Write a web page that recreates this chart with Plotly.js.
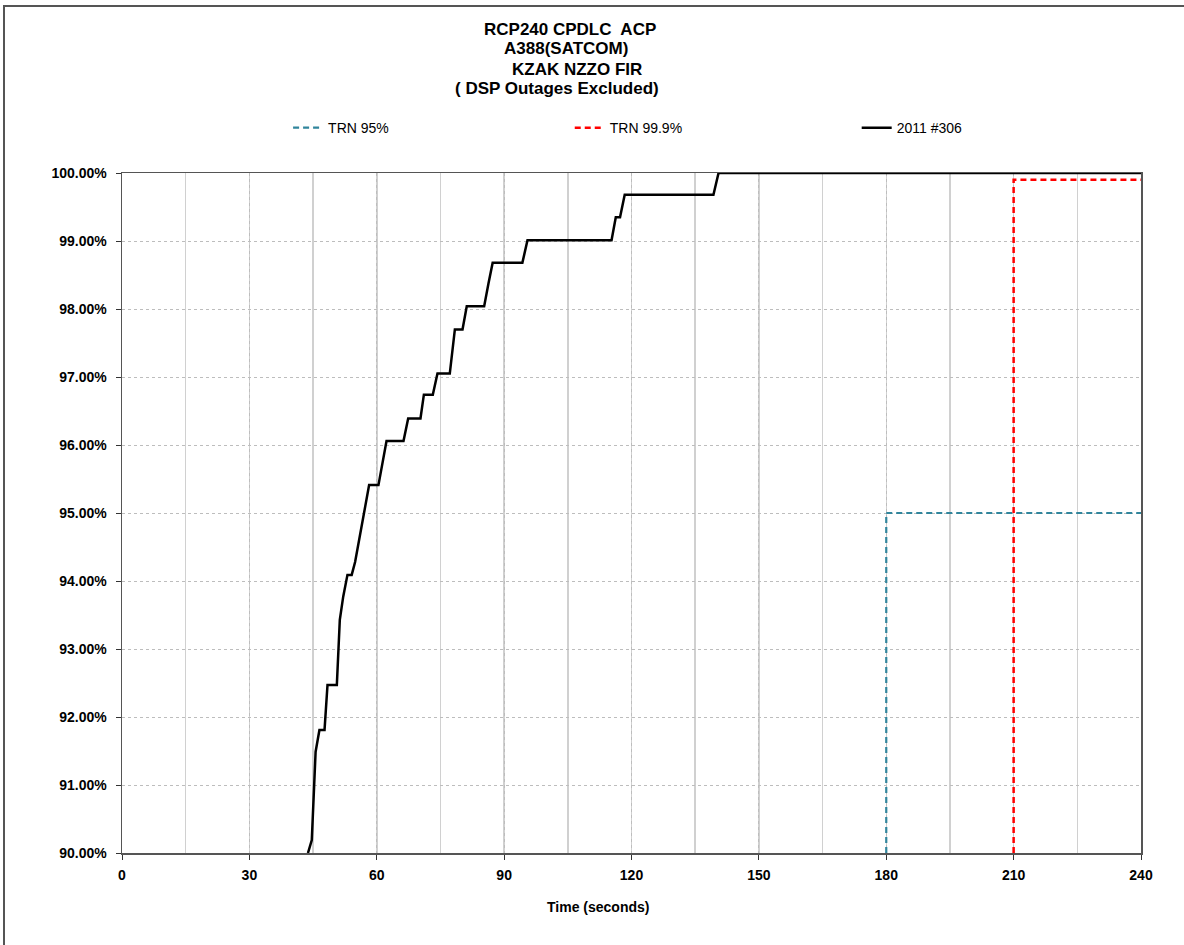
<!DOCTYPE html>
<html>
<head>
<meta charset="utf-8">
<script src="https://cdn.plot.ly/plotly-3.0.1.min.js"></script>
<style>html,body{margin:0;padding:0;background:#fff;}#chart{width:1184px;height:945px;}</style>
</head>
<body>
<div id="chart"></div>
<script>
// Observed cumulative delivery curve (2011 #306)
const obsTime = [43.8, 44.7, 45.6, 46.5, 47.7, 48.4, 50.6, 51.2, 51.3, 52.1, 53.1, 54.1, 54.9, 58.2, 60.4, 62.3, 66.3, 67.4, 70.3, 71.1, 73.2, 74.3, 77.2, 78.4, 80.2, 81.2, 85.3, 86.3, 87.3, 94.3, 95.5, 115.3, 116.3, 117.3, 118.4, 139.3, 140.5, 240];
const obsPct  = [90.00, 90.19, 91.49, 91.81, 91.81, 92.47, 92.47, 93.13, 93.43, 93.77, 94.09, 94.09, 94.28, 95.41, 95.41, 96.06, 96.06, 96.39, 96.39, 96.74, 96.74, 97.05, 97.05, 97.70, 97.70, 98.04, 98.04, 98.37, 98.68, 98.68, 99.01, 99.01, 99.35, 99.35, 99.68, 99.68, 100.00, 100.00];

// Requirement lines
const trn95Time  = [180, 180, 240];
const trn95Pct   = [90, 95, 95];
const trn999Time = [210, 210, 240];
const trn999Pct  = [90, 99.9, 99.9];

const xTicks = [0, 30, 60, 90, 120, 150, 180, 210, 240];
const yTicks = [90, 91, 92, 93, 94, 95, 96, 97, 98, 99, 100];

const titleLines = ["RCP240 CPDLC  ACP", "A388(SATCOM)", "KZAK NZZO FIR", "( DSP Outages Excluded)"];
const seriesNames = ["TRN 95%", "TRN 99.9%", "2011 #306"];
const xAxisTitle = "Time (seconds)";

const FONT = "Liberation Sans, Arial, sans-serif";

const traces = [
  {x: trn95Time, y: trn95Pct, mode: 'lines', name: seriesNames[0], legend: 'legend',
   line: {color: '#31859C', width: 2.2, dash: '6px,4px'}},
  {x: trn999Time, y: trn999Pct, mode: 'lines', name: seriesNames[1], legend: 'legend2',
   line: {color: '#FF0000', width: 2.5, dash: '6px,4px'}},
  {x: obsTime, y: obsPct, mode: 'lines', name: seriesNames[2], legend: 'legend3',
   line: {color: '#000000', width: 2.5}}
];

const legendBase = {orientation: 'h', yanchor: 'middle', y: 1.066, xanchor: 'left',
  bgcolor: 'rgba(0,0,0,0)', font: {family: FONT, size: 14, color: '#000'}, itemwidth: 30};

// title lines as annotations (positions in paper coords)
const titleX = [0.4396, 0.4357, 0.4465, 0.427];
const titleY = [1.2103, 1.1824, 1.1529, 1.125];
const annotations = titleLines.map((t, i) => ({
  text: '<b>' + t + '</b>', xref: 'paper', yref: 'paper', x: titleX[i], y: titleY[i],
  xanchor: 'center', yanchor: 'middle', showarrow: false,
  font: {family: FONT, size: 17, color: '#000'}
}));
annotations.push({
  text: '<b>' + xAxisTitle + '</b>', xref: 'paper', yref: 'paper', x: 0.467, y: -0.0794,
  xanchor: 'center', yanchor: 'middle', showarrow: false,
  font: {family: FONT, size: 14, color: '#000'}
});

const layout = {
  width: 1184, height: 945,
  margin: {l: 122, r: 43, t: 173, b: 92},
  paper_bgcolor: '#ffffff', plot_bgcolor: '#ffffff',
  font: {family: FONT, size: 12, color: '#000'},
  showlegend: true,
  legend: Object.assign({}, legendBase, {x: 0.163}),
  legend2: Object.assign({}, legendBase, {x: 0.4394}),
  legend3: Object.assign({}, legendBase, {x: 0.721}),
  annotations: annotations,
  xaxis: {
    range: [0, 240], tickvals: xTicks, ticktext: xTicks.map(String),
    showgrid: true, gridcolor: '#bdbdbd', griddash: '3px,3px', gridwidth: 1,
    minor: {dtick: 15, tick0: 0, showgrid: true, gridcolor: '#d0d0d0', griddash: 'solid', gridwidth: 1.5, ticks: ''},
    zeroline: false, showline: true, linecolor: '#555', linewidth: 1.5, mirror: true,
    ticks: 'outside', ticklen: 5, tickcolor: '#333', ticklabelstandoff: 4,
    tickfont: {family: FONT, size: 14, color: '#000', weight: 'bold'}
  },
  yaxis: {
    range: [90, 100], tickvals: yTicks, ticktext: yTicks.map(v => v.toFixed(2) + '%'),
    showgrid: true, gridcolor: '#bdbdbd', griddash: '3px,3px', gridwidth: 1,
    zeroline: false, showline: true, linecolor: '#555', linewidth: 1.5, mirror: true,
    ticks: 'outside', ticklen: 5, tickcolor: '#333', ticklabelstandoff: 6,
    tickfont: {family: FONT, size: 14, color: '#000', weight: 'bold'}
  },
  shapes: [
    {type: 'rect', xref: 'paper', yref: 'paper', x0: -0.1158, x1: 1.2, y0: -0.5, y1: 1.2456,
     line: {color: '#555', width: 2}, fillcolor: 'rgba(0,0,0,0)', layer: 'below'}
  ]
};

Plotly.newPlot('chart', traces, layout, {displayModeBar: false, staticPlot: true});
</script>
</body>
</html>
